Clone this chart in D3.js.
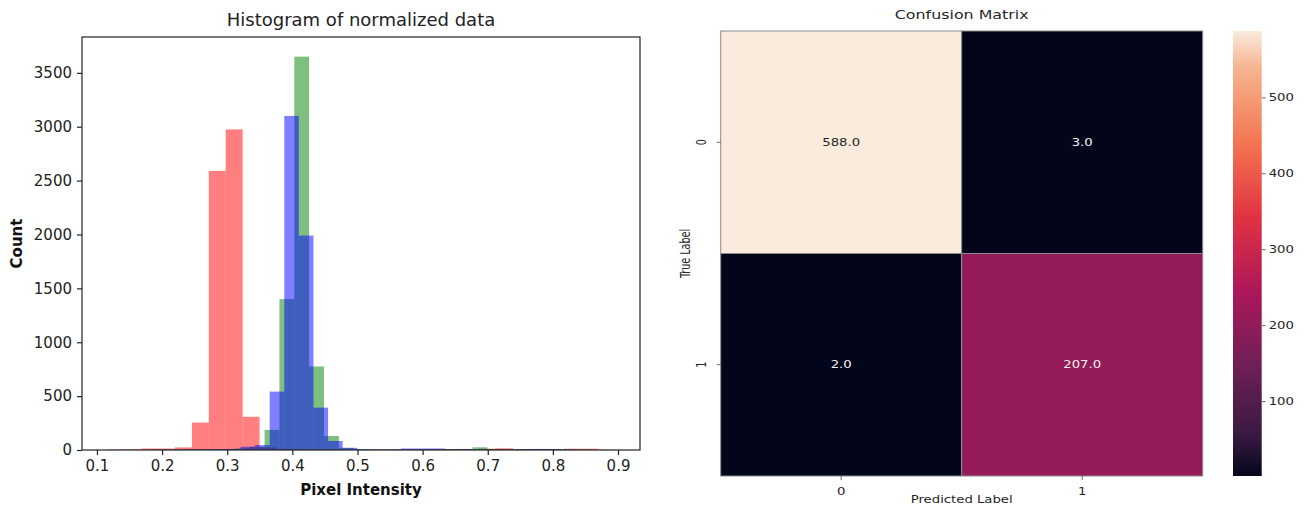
<!DOCTYPE html>
<html>
<head>
<meta charset="utf-8">
<script src="https://cdn.jsdelivr.net/npm/d3@7"></script>
<style>
  body { margin: 0; background: #fff; }
  svg { display: block; font-family: "DejaVu Sans", sans-serif; }
</style>
</head>
<body>
<div id="chart"></div>
<script>
// histogram data, 30 bins per channel
const redStart = 0.116, redWidth = 0.02596;
const redCounts = [5, 6, 14, 14, 24, 255, 2590, 2975, 308, 25, 10, 6, 4, 3, 3, 2, 3, 4, 5, 6, 5, 6, 12, 16, 8, 6, 5, 12, 12, 4];

const greenStart = 0.175, greenWidth = 0.0228;
const greenCounts = [3, 3, 4, 5, 6, 8, 15, 30, 186, 1400, 3650, 775, 130, 20, 6, 4, 3, 4, 5, 6, 8, 10, 25, 10, 6, 8, 6, 10, 6, 3];

const blueStart = 0.186, blueWidth = 0.0224;
const blueCounts = [4, 4, 5, 5, 8, 10, 30, 46, 542, 3100, 1990, 393, 84, 20, 8, 6, 6, 14, 14, 14, 8, 6, 5, 5, 6, 8, 10, 6, 3, 2];

const histXTicks = [0.1, 0.2, 0.3, 0.4, 0.5, 0.6, 0.7, 0.8, 0.9];
const histYTicks = [0, 500, 1000, 1500, 2000, 2500, 3000, 3500];

// confusion matrix
const cmLabels = ["0", "1"];
const cmValues = [[588, 3], [2, 207]];
const cbTicks = [100, 200, 300, 400, 500];

// rocket colormap stops
const rocketStops = [
  [0, "#03051a"], [0.083, "#35193e"], [0.25, "#701f57"], [0.417, "#ad1759"],
  [0.583, "#e13342"], [0.75, "#f37651"], [0.917, "#f6b48f"], [1, "#faebdd"]
];

const W = 1304, H = 505;
const svg = d3.select("#chart").append("svg")
  .attr("width", W).attr("height", H);

// ---------- histogram ----------
function makeBins(start, width, counts) {
  return counts.map((c, i) => ({ x0: start + i * width, x1: start + (i + 1) * width, n: c }));
}
const series = [
  { color: "red", bins: makeBins(redStart, redWidth, redCounts) },
  { color: "green", bins: makeBins(greenStart, greenWidth, greenCounts) },
  { color: "blue", bins: makeBins(blueStart, blueWidth, blueCounts) }
];

const allEdges = series.flatMap(s => s.bins.flatMap(b => [b.x0, b.x1]));
const xmin = d3.min(allEdges), xmax = d3.max(allEdges), span = xmax - xmin;
const ymax = d3.max(series.flatMap(s => s.bins.map(b => b.n))) * 1.05;

const hl = 82, hr = 640, ht = 37, hb = 450;
const x = d3.scaleLinear().domain([xmin - 0.05 * span, xmax + 0.05 * span]).range([hl, hr]);
const y = d3.scaleLinear().domain([0, ymax]).range([hb, ht]);

const hist = svg.append("g");

series.forEach(s => {
  hist.append("g").selectAll("rect")
    .data(s.bins.filter(b => b.n > 0))
    .join("rect")
    .attr("x", d => x(d.x0))
    .attr("width", d => x(d.x1) - x(d.x0))
    .attr("y", d => y(d.n))
    .attr("height", d => y(0) - y(d.n))
    .attr("fill", s.color)
    .attr("fill-opacity", 0.5);
});

const xAxis = hist.append("g")
  .attr("transform", `translate(0,${hb})`)
  .call(d3.axisBottom(x).tickValues(histXTicks).tickFormat(d3.format(".1f")).tickSize(5).tickPadding(5));
const yAxis = hist.append("g")
  .attr("transform", `translate(${hl},0)`)
  .call(d3.axisLeft(y).tickValues(histYTicks).tickSize(5).tickPadding(5).tickFormat(d => d));
[xAxis, yAxis].forEach(a => {
  a.select(".domain").remove();
  a.selectAll("text").attr("font-size", 15).attr("fill", "#222").attr("font-family", "DejaVu Sans");
  a.selectAll("line").attr("stroke", "#222").attr("stroke-width", 1.2);
});

hist.append("rect")
  .attr("x", hl).attr("y", ht).attr("width", hr - hl).attr("height", hb - ht)
  .attr("fill", "none").attr("stroke", "#222").attr("stroke-width", 1.2);

hist.append("text")
  .attr("x", (hl + hr) / 2).attr("y", 26)
  .attr("text-anchor", "middle").attr("font-size", 18).attr("fill", "#222")
  .text("Histogram of normalized data");
hist.append("text")
  .attr("x", (hl + hr) / 2).attr("y", 495)
  .attr("text-anchor", "middle").attr("font-size", 15).attr("font-weight", "bold").attr("fill", "#111")
  .text("Pixel Intensity");
hist.append("text")
  .attr("transform", `translate(22,${(ht + hb) / 2}) rotate(-90)`)
  .attr("text-anchor", "middle").attr("font-size", 15).attr("font-weight", "bold").attr("fill", "#111")
  .text("Count");

// ---------- confusion matrix ----------
const sx = 1.38; // horizontal stretch of the right panel
const cm = svg.append("g");
const cl = 720.7, cr = 1202.7, ct = 31, cb = 476;

const flat = cmValues.flat();
const vmin = d3.min(flat), vmax = d3.max(flat);
const rocket = d3.scaleLinear()
  .domain(rocketStops.map(d => d[0]))
  .range(rocketStops.map(d => d[1]))
  .interpolate(d3.interpolateRgb);
const color = v => rocket((v - vmin) / (vmax - vmin));

const cx = d3.scaleBand().domain(cmLabels).range([cl, cr]);
const cy = d3.scaleBand().domain(cmLabels).range([ct, cb]);

const cells = [];
cmLabels.forEach((r, i) => cmLabels.forEach((c, j) => cells.push({ r, c, v: cmValues[i][j] })));

cm.selectAll("rect.cell").data(cells).join("rect")
  .attr("class", "cell")
  .attr("x", d => cx(d.c)).attr("y", d => cy(d.r))
  .attr("width", cx.bandwidth()).attr("height", cy.bandwidth())
  .attr("fill", d => color(d.v))
  .attr("stroke", "#8c8c8c").attr("stroke-width", 1);

function stext(g, px, py, str, size, opts = {}) {
  return g.append("text")
    .attr("transform", `translate(${px},${py}) scale(${sx},1)` + (opts.rotate ? ` rotate(${opts.rotate})` : ""))
    .attr("font-size", size)
    .attr("fill", opts.fill || "#262626")
    .attr("text-anchor", opts.anchor || "middle")
    .text(str);
}

cells.forEach(d => {
  const t = (d.v - vmin) / (vmax - vmin);
  stext(cm, cx(d.c) + cx.bandwidth() / 2, cy(d.r) + cy.bandwidth() / 2 + 3.5,
    d3.format(".1f")(d.v), 9.6, { fill: t > 0.6 ? "#262626" : "#f2f2f2" });
});

// ticks
cmLabels.forEach(l => {
  const xc = cx(l) + cx.bandwidth() / 2;
  cm.append("line").attr("x1", xc).attr("x2", xc).attr("y1", cb).attr("y2", cb + 4)
    .attr("stroke", "#444").attr("stroke-width", 0.8);
  stext(cm, xc, 494.5, l, 9.6);
  const yc = cy(l) + cy.bandwidth() / 2;
  cm.append("line").attr("x1", cl - 4).attr("x2", cl).attr("y1", yc).attr("y2", yc)
    .attr("stroke", "#444").attr("stroke-width", 0.8);
  stext(cm, 706, yc, l, 9.6, { rotate: -90 });
});

stext(cm, (cl + cr) / 2, 18.5, "Confusion Matrix", 11.5);
stext(cm, (cl + cr) / 2, 503, "Predicted Label", 9.6);
stext(cm, 690, (ct + cb) / 2, "True Label", 9.6, { rotate: -90 });

// colorbar
const cbl = 1233, cbw = 28.7;
const cbScale = d3.scaleLinear().domain([vmin, vmax]).range([cb, ct]);
const grad = svg.append("defs").append("linearGradient")
  .attr("id", "rocketGrad").attr("x1", 0).attr("x2", 0).attr("y1", 1).attr("y2", 0);
d3.range(0, 1.0001, 0.02).forEach(t => {
  grad.append("stop").attr("offset", t).attr("stop-color", rocket(t));
});
cm.append("rect")
  .attr("x", cbl).attr("y", ct).attr("width", cbw).attr("height", cb - ct)
  .attr("fill", "url(#rocketGrad)");
cbTicks.forEach(v => {
  const yy = cbScale(v);
  cm.append("line").attr("x1", cbl + cbw).attr("x2", cbl + cbw + 4).attr("y1", yy).attr("y2", yy)
    .attr("stroke", "#444").attr("stroke-width", 0.8);
  stext(cm, cbl + cbw + 7, yy + 3.5, String(v), 9.6, { anchor: "start" });
});
</script>
</body>
</html>
